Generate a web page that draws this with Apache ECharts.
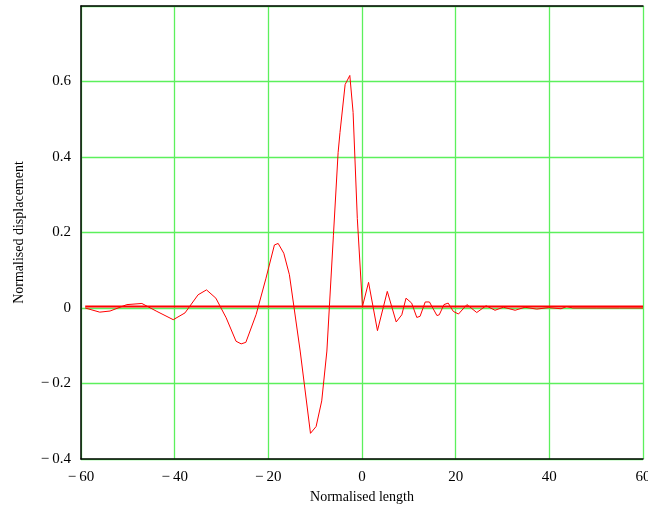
<!DOCTYPE html>
<html><head><meta charset="utf-8">
<script src="https://cdn.jsdelivr.net/npm/echarts@6/dist/echarts.min.js"></script>
<style>html,body{margin:0;padding:0;background:#fff}#c{width:648px;height:508px}</style>
</head><body><div id="c"></div>
<script>
// Normalised length (x) values of the traced curve
const xs = [-59.1,-56,-53.8,-50.2,-47,-43.8,-40.3,-37.8,-35,-33.2,-31.2,-29,-26.9,-25.8,-24.8,-22.6,-20.5,-18.7,-17.9,-16.7,-15.5,-13.2,-11,-9.8,-8.6,-7.5,-6.1,-5.1,-4.7,-3.6,-2.6,-1.9,-1,0.1,1.4,3.3,5.4,7.3,8.5,9.4,10.6,11.7,12.4,13.5,14.4,16,16.5,17.5,18.4,19.5,20.6,22.4,24.5,26.5,28.4,30.2,32.7,34.8,37.3,39.8,42.5,43.7,45,50,55,60];
// Normalised displacement (y) values
const ys = [0,-0.011,-0.008,0.009,0.012,-0.009,-0.031,-0.013,0.035,0.048,0.026,-0.026,-0.088,-0.095,-0.091,-0.017,0.079,0.167,0.171,0.145,0.088,-0.114,-0.332,-0.314,-0.246,-0.114,0.193,0.412,0.465,0.592,0.616,0.518,0.237,0.004,0.068,-0.06,0.044,-0.037,-0.018,0.026,0.013,-0.025,-0.022,0.016,0.016,-0.02,-0.018,0.009,0.013,-0.009,-0.016,0.009,-0.012,0.006,-0.006,0.002,-0.006,0.002,-0.003,0.001,-0.002,0.004,0,0,0,0];
// Reference (baseline) line
const baseX = [-59.1, 60];
const baseY = [0.004, 0.004];
const xTicks = [-60,-40,-20,0,20,40,60];
const yTicks = [-0.4,-0.2,0,0.2,0.4,0.6];

const font = '"Liberation Serif", "Times New Roman", serif';
const fmt = v => { if (Math.abs(v) < 1e-9) return '0'; const s = String(Math.round(Math.abs(v)*10)/10); return (v<0?'\u2212\u2009':'') + s; };
const fmtX = v => { if (v===0) return '0'; return (v<0?'\u2212\u2009':'') + Math.abs(v); };

const chart = echarts.init(document.getElementById('c'), null, {renderer:'canvas'});
chart.setOption({
  backgroundColor:'#fff',
  animation:false,
  grid:{left:81,right:5,top:6,bottom:49,containLabel:false,outerBoundsMode:'none'},
  xAxis:[{
    type:'value',min:-60,max:60,interval:20,position:'bottom',
    axisLine:{show:true,onZero:false,lineStyle:{color:'#000',width:1.5}},
    axisTick:{show:false},
    axisLabel:{color:'#000',fontFamily:font,fontSize:15,margin:11,hideOverlap:false,formatter:v=>xTicks.includes(v)?fmtX(v):''},
    splitLine:{show:true,lineStyle:{color:'#5cf05c',width:1.3}},
    name:'Normalised length',nameLocation:'middle',nameGap:31,
    nameTextStyle:{color:'#000',fontFamily:font,fontSize:14}
  },{
    type:'value',min:-60,max:60,position:'top',
    axisLine:{show:true,onZero:false,lineStyle:{color:'#000',width:1.5}},
    axisTick:{show:false},axisLabel:{show:false},splitLine:{show:false}
  }],
  yAxis:{
    type:'value',min:-0.4,max:0.8,interval:0.2,
    axisLine:{show:true,onZero:false,lineStyle:{color:'#000',width:1.5}},
    axisTick:{show:false},
    axisLabel:{color:'#000',fontFamily:font,fontSize:15,margin:10,
      formatter:v=>yTicks.some(t=>Math.abs(t-v)<1e-6)?fmt(v):''},
    splitLine:{show:true,lineStyle:{color:'#5cf05c',width:1.3}},
    name:'Normalised displacement',nameLocation:'middle',nameGap:55,nameRotate:90,
    nameTextStyle:{color:'#000',fontFamily:font,fontSize:14}
  },
  series:[{
    type:'line',data:baseX.map((x,i)=>[x,baseY[i]]),symbol:'none',
    lineStyle:{color:'#ff0000',width:1.8},z:3
  },{
    type:'line',data:xs.map((x,i)=>[x,ys[i]]),symbol:'none',
    lineStyle:{color:'#ff0000',width:1},z:4
  }]
});
</script></body></html>
